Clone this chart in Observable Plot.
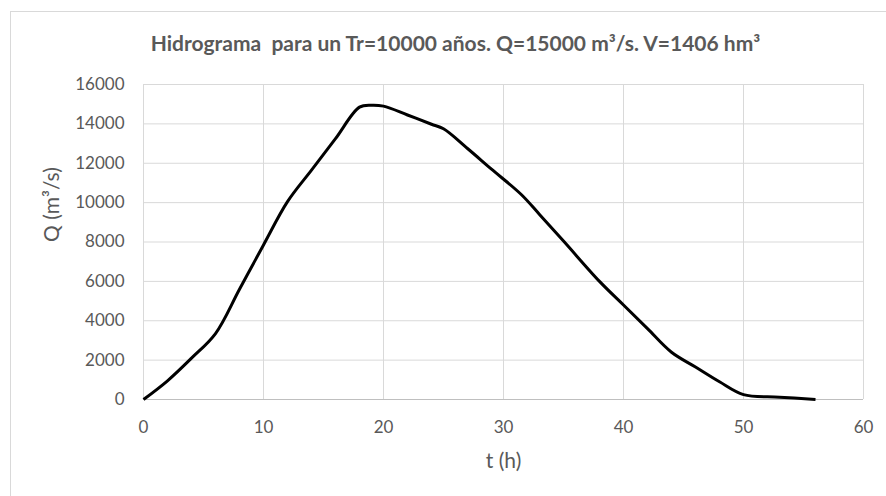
<!DOCTYPE html>
<html>
<head>
<meta charset="utf-8">
<script src="https://cdn.jsdelivr.net/npm/d3@7"></script>
<script src="https://cdn.jsdelivr.net/npm/@observablehq/plot@0.6"></script>
<style>
  html, body { margin: 0; padding: 0; background: #fff; }
  #chart { width: 886px; height: 496px; }
</style>
</head>
<body>
<div id="chart"></div>
<script>
const title = "Hidrograma  para un Tr=10000 años. Q=15000 m³/s. V=1406 hm³";
const xLabel = "t (h)";
const yLabel = "Q (m³/s)";
const hours = [0, 2, 4, 6, 8, 10, 12, 14, 16, 18, 19, 20, 22, 24, 25, 27, 29, 31.5, 33, 35, 38, 40, 42, 44, 46, 48, 50, 53, 56];
const flow  = [0, 950, 2100, 3350, 5600, 7850, 10050, 11650, 13250, 14850, 14950, 14900, 14450, 13980, 13750, 12750, 11700, 10400, 9400, 8050, 6000, 4800, 3600, 2400, 1650, 900, 250, 120, 0];
const xTicks = [0, 10, 20, 30, 40, 50, 60];
const yTicks = [0, 2000, 4000, 6000, 8000, 10000, 12000, 14000, 16000];

const data = hours.map((t, i) => ({t, q: flow[i]}));
const textColor = "#595959";

const chart = Plot.plot({
  width: 886,
  height: 496,
  marginLeft: 143,
  marginRight: 23,
  marginTop: 84,
  marginBottom: 97,
  style: {fontFamily: "Lato, 'Open Sans', sans-serif", background: "#fff"},
  x: {domain: [0, 60], label: null},
  y: {domain: [0, 16000], label: null},
  marks: [
    Plot.gridX(xTicks, {stroke: "#d9d9d9", strokeOpacity: 1, strokeWidth: 1}),
    Plot.gridY(yTicks, {stroke: "#d9d9d9", strokeOpacity: 1, strokeWidth: 1}),
    Plot.ruleY([0], {stroke: "#bfbfbf", strokeWidth: 1}),
    Plot.line(data, {x: "t", y: "q", stroke: "#000", strokeWidth: 3, curve: "catmull-rom", strokeLinejoin: "round", strokeLinecap: "butt"}),
    Plot.axisX(xTicks, {tickSize: 0, tickPadding: 21, fontSize: 17, fill: textColor, tickFormat: d => String(d)}),
    Plot.axisY(yTicks, {tickSize: 0, tickPadding: 19, fontSize: 17, fill: textColor, tickFormat: d => String(d)}),
    Plot.text([xLabel], {frameAnchor: "bottom", dy: 62, fontSize: 21, fill: textColor, lineAnchor: "middle"}),
    Plot.text([yLabel], {frameAnchor: "left", dx: -91, rotate: -90, fontSize: 21, fill: textColor, lineAnchor: "middle"}),
    Plot.text([title], {frameAnchor: "top", dx: -48, dy: -40, fontSize: 21, fontWeight: "bold", fill: textColor, lineAnchor: "middle"})
  ]
});

const svg = d3.select(chart);
svg.append("line").attr("x1", 10.5).attr("x2", 10.5).attr("y1", 11).attr("y2", 496)
  .attr("stroke", "#d9d9d9").attr("stroke-width", 1);
svg.append("line").attr("x1", 10).attr("x2", 886).attr("y1", 11.5).attr("y2", 11.5)
  .attr("stroke", "#d9d9d9").attr("stroke-width", 1);

document.getElementById("chart").appendChild(chart);
</script>
</body>
</html>
